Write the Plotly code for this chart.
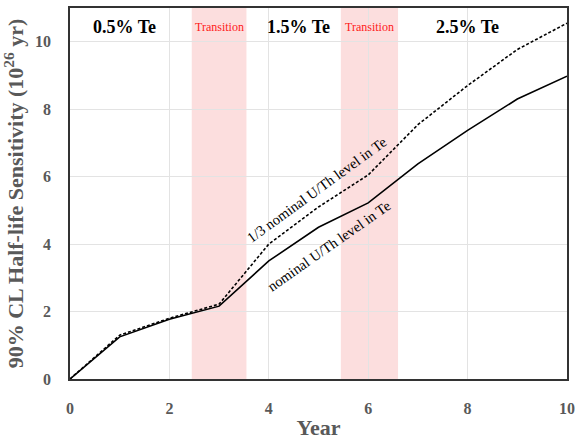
import plotly.graph_objects as go

years = [0, 1, 2, 3, 4, 5, 6, 7, 8, 9, 10]
nominal = [0, 1.25, 1.77, 2.16, 3.5, 4.5, 5.22, 6.38, 7.37, 8.3, 8.98]
third_nominal = [0, 1.3, 1.8, 2.22, 4.0, 5.1, 6.05, 7.54, 8.7, 9.77, 10.55]

transitions = [(2.45, 3.55), (5.45, 6.6)]
phase_labels = ["0.5% Te", "1.5% Te", "2.5% Te"]
phase_x = [1.1, 4.6, 8.0]

serif = "Liberation Serif, Times New Roman, serif"
gray = "#595959"

fig = go.Figure()
fig.add_trace(go.Scatter(x=years, y=nominal, mode="lines",
                         line=dict(color="black", width=1.6), showlegend=False))
fig.add_trace(go.Scatter(x=years, y=third_nominal, mode="lines",
                         line=dict(color="black", width=1.6, dash="3px,2px"), showlegend=False))

for x0, x1 in transitions:
    fig.add_shape(type="rect", x0=x0, x1=x1, y0=0, y1=11, xref="x", yref="y",
                  fillcolor="rgba(250,190,190,0.5)", line=dict(width=0), layer="below")
    fig.add_annotation(x=(x0 + x1) / 2, y=10.45, text="Transition", showarrow=False,
                       font=dict(family=serif, size=12, color="#ff2020"))

for lbl, px in zip(phase_labels, phase_x):
    fig.add_annotation(x=px, y=10.45, text="<b>" + lbl + "</b>", showarrow=False,
                       font=dict(family=serif, size=18, color="black"))

fig.add_annotation(x=4.96, y=5.59, text="1/3 nominal U/Th level in Te", showarrow=False,
                   textangle=-36, font=dict(family=serif, size=14.5, color="black"))
fig.add_annotation(x=5.21, y=3.94, text="nominal U/Th level in Te", showarrow=False,
                   textangle=-35, font=dict(family=serif, size=14.5, color="black"))

fig.update_layout(
    width=575, height=440,
    margin=dict(l=70, r=8, t=8, b=61),
    plot_bgcolor="white", paper_bgcolor="white",
    xaxis=dict(range=[0, 10], tickvals=[0, 2, 4, 6, 8, 10], showgrid=True,
               gridcolor="#e3e3e3", gridwidth=1, zeroline=False, automargin=False,
               showline=True, linecolor="#333333", linewidth=1.6, mirror=True,
               ticks="", ticklabelstandoff=14,
               tickfont=dict(family=serif, size=16, color=gray, weight="bold"),
               title=dict(text="<b>Year</b>", standoff=8,
                          font=dict(family=serif, size=22, color=gray))),
    yaxis=dict(range=[0, 11], tickvals=[0, 2, 4, 6, 8, 10], showgrid=True,
               gridcolor="#e3e3e3", gridwidth=1, zeroline=False, automargin=False,
               showline=True, linecolor="#333333", linewidth=1.6, mirror=True,
               ticks="", ticklabelstandoff=14,
               tickfont=dict(family=serif, size=16, color=gray, weight="bold"),
               title=dict(text="<b>90% CL Half-life Sensitivity (10<sup>26</sup> yr)</b>", standoff=6,
                          font=dict(family=serif, size=22, color=gray))),
)

fig.write_html("out.html", config={"displayModeBar": False},
               post_script="document.body.style.margin='0';")
